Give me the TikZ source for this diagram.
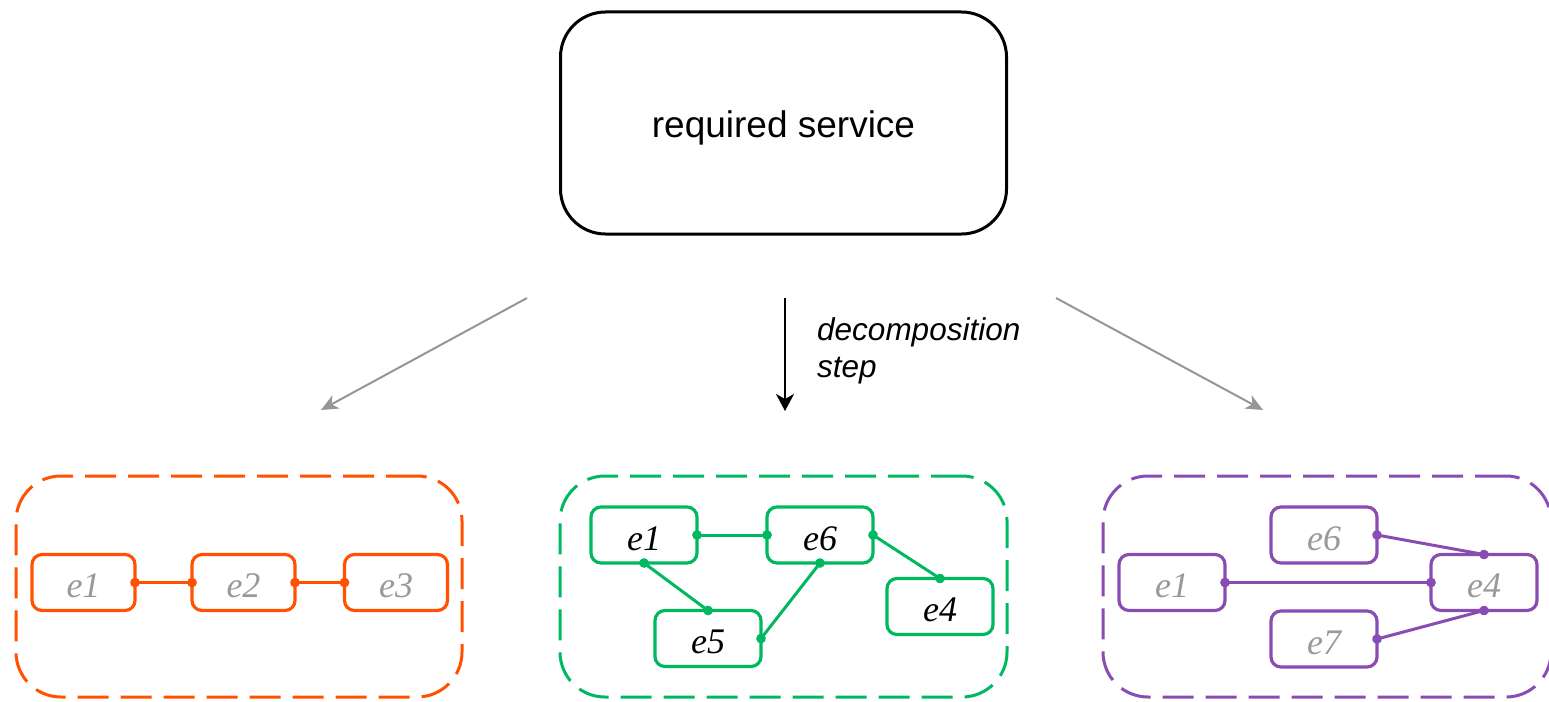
\documentclass[tikz,border=0pt]{standalone}
\usepackage{fontspec}
\setsansfont{Liberation Sans}
\newfontfamily\elemfont{Liberation Serif}[Numbers=Lining]
\usetikzlibrary{arrows.meta}

\definecolor{cOrange}{RGB}{255,81,0}
\definecolor{cGreen}{RGB}{0,184,96}
\definecolor{cPurple}{RGB}{137,76,178}
\definecolor{cGreyText}{RGB}{153,153,153}
\definecolor{cGreyArrow}{RGB}{150,150,150}

\tikzset{
  service/.style={draw=black, line width=3pt, rounded corners=45pt,
    minimum width=446pt, minimum height=222pt, inner sep=0pt,
    text height=29pt, text depth=0pt,
    font=\sffamily\fontsize{37}{44}\selectfont},
  group/.style={draw=#1, line width=3pt, rounded corners=45pt,
    dash pattern=on 31pt off 12pt, minimum height=221pt, inner sep=0pt},
  elem/.style={draw=#1, line width=3.2pt, rounded corners=10pt,
    minimum width=104pt, minimum height=56pt, inner sep=0pt, outer sep=0pt,
    text height=30pt, text depth=0pt,
    font=\elemfont\itshape\fontsize{36}{42}\selectfont},
  link/.style={draw=#1, line width=3pt,
    {Circle[length=9.5pt,fill=#1]}-{Circle[length=9.5pt,fill=#1]},
    shorten <=-4.75pt, shorten >=-4.75pt},
  mainarrow/.style={draw=black, line width=2pt,
    -{Stealth[length=17pt,width=18pt,inset=5pt]}},
  sidearrow/.style={draw=cGreyArrow, line width=2pt,
    -{Stealth[length=17pt,width=15pt,inset=5pt]}},
}

\begin{document}
\begin{tikzpicture}[x=1pt,y=-1pt]
\useasboundingbox (0,0) rectangle (1549,701);

% top service box
\node[service] (svc) at (783.5,123) {required service};

% decomposition arrows
\coordinate (mA) at (785,298);
\coordinate (mB) at (785,411);
\coordinate (lA) at (527,298);
\coordinate (lB) at (321,410);
\coordinate (rA) at (1056,298);
\coordinate (rB) at (1263,410);
\draw[mainarrow] (mA) -- (mB);
\draw[sidearrow] (lA) -- (lB);
\draw[sidearrow] (rA) -- (rB);
\node[anchor=west, align=left, inner sep=0pt,
  font=\sffamily\itshape\fontsize{31.5}{37}\selectfont] (lbl) at (817,351)
  {decomposition\\step};

% orange decomposition
\node[group=cOrange, minimum width=446pt] (gA) at (239,586.5) {};
\node[elem=cOrange, text=cGreyText, minimum width=103pt] (a1) at (83.5,582.5) {e1};
\node[elem=cOrange, text=cGreyText, minimum width=103pt] (a2) at (243.5,582.5) {e2};
\node[elem=cOrange, text=cGreyText, minimum width=103pt] (a3) at (396,582.5) {e3};
\draw[link=cOrange] (a1.east) -- (a2.west);
\draw[link=cOrange] (a2.east) -- (a3.west);

% green decomposition
\node[group=cGreen, minimum width=447pt] (gB) at (783.5,586.5) {};
\node[elem=cGreen, text=black, minimum width=106pt] (b1) at (644,535) {e1};
\node[elem=cGreen, text=black, minimum width=106pt] (b6) at (820,535) {e6};
\node[elem=cGreen, text=black, minimum width=106pt] (b5) at (708,638.5) {e5};
\node[elem=cGreen, text=black, minimum width=106pt] (b4) at (940,606.5) {e4};
\draw[link=cGreen] (b1.east) -- (b6.west);
\draw[link=cGreen] (b1.south) -- (b5.north);
\draw[link=cGreen] (b6.south) -- (b5.east);
\draw[link=cGreen] (b6.east) -- (b4.north);

% purple decomposition
\node[group=cPurple, minimum width=448pt] (gC) at (1327,586.5) {};
\node[elem=cPurple, text=cGreyText, minimum width=106pt] (c6) at (1324,535) {e6};
\node[elem=cPurple, text=cGreyText, minimum width=106pt] (c1) at (1172,582.5) {e1};
\node[elem=cPurple, text=cGreyText, minimum width=106pt] (c4) at (1484,582.5) {e4};
\node[elem=cPurple, text=cGreyText, minimum width=106pt] (c7) at (1324,639) {e7};
\draw[link=cPurple] (c1.east) -- (c4.west);
\draw[link=cPurple] (c6.east) -- (c4.north);
\draw[link=cPurple] (c7.east) -- (c4.south);
\end{tikzpicture}
\end{document}
